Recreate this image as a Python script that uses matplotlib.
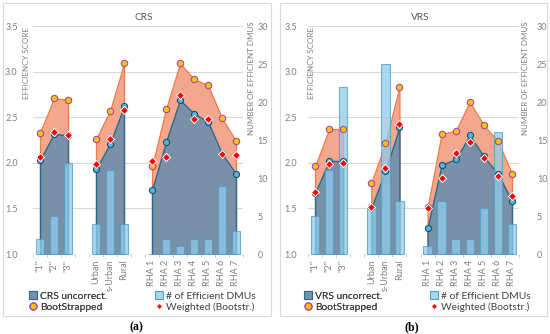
import numpy as np
import matplotlib
matplotlib.use("Agg")
import matplotlib.pyplot as plt
from matplotlib.patches import Patch, Rectangle
from matplotlib.lines import Line2D

plt.rcParams['font.family'] = ['Lato', 'DejaVu Sans']

nan = np.nan
categories = ['"1"', '"2"', '"3"', '', 'Urban', 's-Urban', 'Rural', '',
              'RHA 1', 'RHA 2', 'RHA 3', 'RHA 4', 'RHA 5', 'RHA 6', 'RHA 7']

crs_uncorr = [2.03, 2.32, 2.30, nan, 1.93, 2.21, 2.62, nan,
              1.70, 2.23, 2.69, 2.54, 2.45, 2.10, 1.88]
crs_boot = [2.33, 2.71, 2.69, nan, 2.26, 2.57, 3.09, nan,
            1.96, 2.59, 3.09, 2.92, 2.85, 2.49, 2.24]
crs_weighted = [2.06, 2.34, 2.31, nan, 1.99, 2.26, 2.58, nan,
                2.02, 2.06, 2.74, 2.48, 2.48, 2.10, 2.09]
crs_dmus = [2, 5, 12, nan, 4, 11, 4, nan, 0, 2, 1, 2, 2, 9, 3]

vrs_uncorr = [1.67, 2.02, 2.02, nan, 1.51, 1.91, 2.39, nan,
              1.29, 1.98, 2.04, 2.30, 2.07, 1.88, 1.58]
vrs_boot = [1.96, 2.37, 2.37, nan, 1.78, 2.22, 2.83, nan,
            1.51, 2.32, 2.35, 2.67, 2.41, 2.24, 1.88]
vrs_weighted = [1.68, 1.99, 2.00, nan, 1.51, 1.94, 2.42, nan,
                1.50, 1.83, 2.11, 2.23, 2.05, 1.86, 1.64]
vrs_dmus = [5, 11, 22, nan, 6, 25, 7, nan, 1, 7, 2, 2, 6, 16, 4]

segments = [(0, 3), (4, 7), (8, 15)]

DARK = '#7990A8'
DARK_EDGE = '#2D6A8A'
SALMON = '#F4A78C'
SALMON_EDGE = '#EE7B48'
BAR = '#8FCCEA'
BAR_EDGE = '#4A9FCB'
GRAY = '#7F7F7F'
W, H = 550, 334


def fx(px):
    return px / W


def fy(py):
    return 1 - py / H


def draw_panel(fig, left, right, unc, boot, wtd, dmus, title, name,
               title_x, lpad, rpad, ylab_x, rlab_x):
    ax = fig.add_axes([fx(left), fy(254), fx(right - left), (254 - 26) / H])
    x = np.arange(len(categories))

    ax.set_ylim(1.0, 3.5)
    ax.set_xlim(-0.28, 14.02)
    ax.set_yticks(np.arange(1.0, 3.51, 0.5))
    ax.set_yticklabels([f'{v:.1f}' for v in np.arange(1.0, 3.51, 0.5)])
    ax.grid(axis='y', color='#D9D9D9', linewidth=0.8)
    ax.set_axisbelow(True)
    for s in ax.spines.values():
        s.set_visible(False)

    unc = np.array(unc)
    boot = np.array(boot)
    for a, b in segments:
        ax.fill_between(x[a:b], boot[a:b], 0, facecolor=SALMON,
                        edgecolor=SALMON_EDGE, linewidth=0.9, zorder=1)
    for a, b in segments:
        ax.fill_between(x[a:b], unc[a:b], 0, facecolor=DARK,
                        edgecolor=DARK_EDGE, linewidth=1.0, zorder=2)

    ax.set_xticks(x)
    ax.set_xticklabels(categories, rotation=90)
    ax.set_xticks(np.arange(-0.5, 14.6, 1.0), minor=True)
    ax.tick_params(axis='x', which='major', length=0, pad=4,
                   labelsize=6.5, labelcolor=GRAY)
    ax.tick_params(axis='x', which='minor', length=2.5, color='#BFBFBF')
    ax.tick_params(axis='y', length=0, pad=lpad, labelsize=6.5,
                   labelcolor=GRAY)

    ax2 = ax.twinx()
    ax2.set_ylim(0, 30)
    ax2.set_yticks(range(0, 31, 5))
    for s in ax2.spines.values():
        s.set_visible(False)
    ax2.tick_params(axis='y', length=0, pad=rpad, labelsize=6.5,
                    labelcolor=GRAY)
    ax2.bar(x, dmus, width=0.6, color=BAR, alpha=0.75, edgecolor=BAR_EDGE,
            linewidth=0.8, zorder=3, clip_on=False)

    # markers above the bars, in left-axis units
    tr = ax.transData
    ax2.plot(x, boot, linestyle='none', marker='o', markersize=4.6,
             markerfacecolor='#FFC000', markeredgecolor='#A548A8',
             markeredgewidth=0.8, transform=tr, zorder=4, clip_on=False)
    ax2.plot(x, unc, linestyle='none', marker='o', markersize=4.4,
             markerfacecolor='#4DB8E8', markeredgecolor='#1F4E66',
             markeredgewidth=0.8, transform=tr, zorder=5, clip_on=False)
    ax2.plot(x, wtd, linestyle='none', marker='D', markersize=3.6,
             markerfacecolor='#FF0000', markeredgecolor='white',
             markeredgewidth=0.7, transform=tr, zorder=6, clip_on=False)

    fig.text(fx(title_x), fy(18), title, ha='center', va='center',
             fontsize=7.3, color='#595959')
    fig.text(fx(ylab_x), fy(27), 'EFFICIENCY SCORE', rotation=90,
             ha='center', va='top', fontsize=5.8, color=GRAY)
    fig.text(fx(rlab_x), fy(21), 'NUMBER OF EFFICIENT DMUS', rotation=90,
             ha='center', va='top', fontsize=5.8, color=GRAY)

    h_unc = Patch(facecolor=DARK, edgecolor=DARK_EDGE, linewidth=0.8)
    h_bar = Patch(facecolor='#A8D8EE', edgecolor=BAR_EDGE, linewidth=0.8)
    h_boot = Line2D([], [], linestyle='none', marker='o', markersize=5,
                    markerfacecolor='#FFC000', markeredgecolor='#A548A8',
                    markeredgewidth=0.9)
    h_wtd = Line2D([], [], linestyle='none', marker='D', markersize=3,
                   markerfacecolor='#FF0000', markeredgecolor='white',
                   markeredgewidth=0.5)
    kw = dict(loc='upper left', frameon=False, fontsize=7.4,
              handlelength=0.8, handleheight=0.8, handletextpad=0.3,
              labelspacing=0.2, borderpad=0, borderaxespad=0,
              labelcolor='#404040')
    leg1 = fig.legend([h_unc, h_boot], [name + ' uncorrect.', 'BootStrapped'],
                      bbox_to_anchor=(fx(left - 4), fy(291)), **kw)
    fig.add_artist(leg1)
    fig.legend([h_bar, h_wtd], ['# of Efficient DMUs', 'Weighted (Bootstr.)'],
               bbox_to_anchor=(fx(left + 122), fy(291)), **kw)
    return ax


fig = plt.figure(figsize=(W / 100, H / 100), dpi=100)

draw_panel(fig, 33, 243, crs_uncorr, crs_boot, crs_weighted, crs_dmus,
           'CRS', 'CRS', 144, 11, 10.5, 27, 252)
draw_panel(fig, 308, 519, vrs_uncorr, vrs_boot, vrs_weighted, vrs_dmus,
           'VRS', 'VRS', 420, 8, 13, 311, 525)

for x0, x1 in [(3, 271), (280, 547)]:
    fig.add_artist(Rectangle((fx(x0), fy(316)), fx(x1 - x0), (316 - 3) / H,
                             transform=fig.transFigure, fill=False,
                             edgecolor='#D9D9D9', linewidth=0.8))

fig.text(fx(136), fy(327), '(a)', ha='center', va='center', fontsize=8.5,
         fontweight='bold', family=['Liberation Serif', 'DejaVu Serif'])
fig.text(fx(412), fy(327), '(b)', ha='center', va='center', fontsize=8.5,
         fontweight='bold', family=['Liberation Serif', 'DejaVu Serif'])

fig.savefig('out.png', dpi=100)
